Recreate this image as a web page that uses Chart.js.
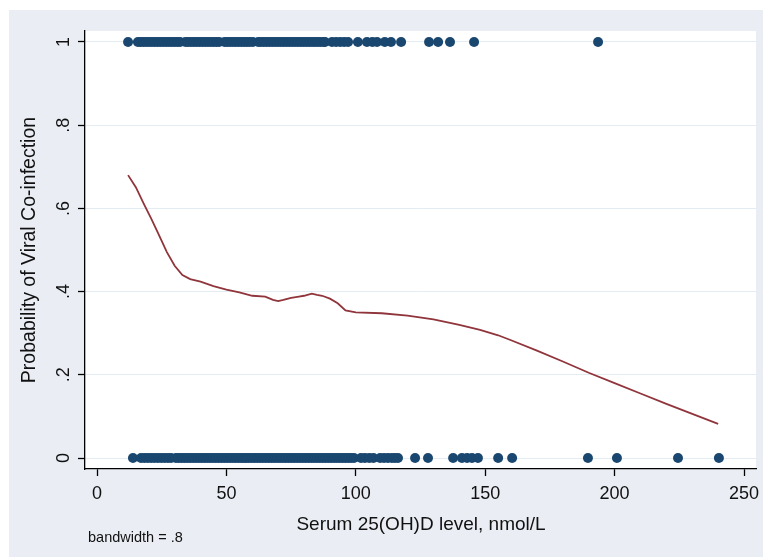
<!DOCTYPE html>
<html>
<head>
<meta charset="utf-8">
<script src="https://cdn.jsdelivr.net/npm/chart.js@4/dist/chart.umd.min.js"></script>
<style>
  html, body { margin: 0; padding: 0; background: #ffffff; }
  canvas { display: block; }
</style>
</head>
<body>
<canvas id="c" width="765" height="560"></canvas>
<script>
// ---- data ----
const xTicks = [0, 50, 100, 150, 200, 250];
const xTickLabels = ['0', '50', '100', '150', '200', '250'];
const yTicks = [0, 0.2, 0.4, 0.6, 0.8, 1];
const yTickLabels = ['0', '.2', '.4', '.6', '.8', '1'];

// Serum 25(OH)D values of subjects with co-infection (y = 1)
const coinfectedX = [12.0, 15.8, 16.8, 17.9, 19.0, 20.1, 21.2, 22.3, 23.4, 24.5, 25.6, 26.7, 27.8, 28.9, 30.0, 31.1, 32.1,
  34.2, 35.2, 36.3, 37.4, 38.5, 39.6, 40.7, 41.8, 42.9, 44.0, 45.1, 46.2, 47.2,
  49.3, 50.3, 51.4, 52.5, 53.6, 54.7, 55.8, 56.9, 57.9, 59.0, 60.2,
  62.3, 63.3, 64.4, 65.5, 66.6, 67.7, 68.8, 69.9, 71.0, 72.1, 73.2, 74.3, 75.4, 76.5, 77.6, 78.7, 79.8, 80.9, 82.0, 83.1, 84.2, 85.3, 86.4, 87.6, 88.1,
  90.8, 92.4, 94.0, 95.5, 97.0,
  100.8, 104.3, 106.4, 108.2, 111.2, 113.6, 117.5,
  128.3, 131.8, 136.4, 145.7, 193.6];
const coinfectedY = coinfectedX.map(() => 1);

// Serum 25(OH)D values of subjects without co-infection (y = 0)
const notCoinfectedX = [13.9, 17.0, 18.3, 19.6, 20.9, 22.2, 23.5, 24.8, 26.1, 27.4, 28.6,
  30.5, 31.6, 32.7, 33.8, 34.9, 36.0, 37.1, 38.2, 39.3, 40.4, 41.5, 42.6, 43.7, 44.8, 45.9, 47.0, 48.1, 49.2, 50.3, 51.4, 52.5, 53.6, 54.7, 55.8, 56.8,
  57.6, 58.6, 59.7, 60.8, 61.9, 63.0, 64.1, 65.2, 66.3, 67.4, 68.5, 69.6, 70.7, 71.8, 72.9, 74.0, 75.1, 76.2, 77.3, 78.4, 79.5, 80.6, 81.7, 82.8, 83.9, 85.0, 86.1, 87.2, 88.3, 89.4, 90.5, 91.6, 92.7, 93.8, 94.9, 96.0, 97.1, 98.2, 99.3,
  102.0, 103.5, 105.2, 106.8, 109.4, 110.9, 112.4, 113.9, 115.1, 116.3,
  122.9, 127.9, 137.6, 141.0, 143.0, 144.9, 147.2, 155.0, 160.4, 189.7, 200.9, 224.5, 240.3];
const notCoinfectedY = notCoinfectedX.map(() => 0);

// lowess smoothed probability
const lowessX = [12, 15, 18, 21, 24, 27, 30, 33, 36, 40, 45, 50, 55, 60, 65, 68, 70, 72, 75, 78, 80, 83, 85, 87, 90, 93, 96, 100,
  110, 120, 130, 140, 148, 155, 160, 170, 180, 190, 200, 210, 220, 230, 240];
const lowessY = [0.680, 0.651, 0.612, 0.575, 0.535, 0.495, 0.462, 0.440, 0.430, 0.424, 0.413, 0.405, 0.398, 0.390, 0.388, 0.380, 0.377, 0.380, 0.385, 0.388, 0.390, 0.395, 0.392, 0.390, 0.383, 0.372, 0.355, 0.350,
  0.348, 0.342, 0.333, 0.320, 0.308, 0.295, 0.283, 0.258, 0.232, 0.205, 0.180, 0.155, 0.130, 0.106, 0.082];

// ---- chart ----
const FONT = 'Arial, "Liberation Sans", sans-serif';
const toXY = (xs, ys) => xs.map((x, i) => ({ x: x, y: ys[i] }));

const decorPlugin = {
  id: 'decor',
  beforeDraw(chart) {
    const ctx = chart.ctx, a = chart.chartArea;
    ctx.save();
    ctx.fillStyle = '#ffffff';
    ctx.fillRect(0, 0, chart.width, chart.height);
    ctx.fillStyle = '#eaeef4';
    ctx.fillRect(9, 10, 754, 547);
    ctx.fillStyle = '#ffffff';
    ctx.fillRect(a.left, a.top, a.right - a.left, a.bottom - a.top);
    ctx.restore();
  },
  afterDraw(chart) {
    const ctx = chart.ctx, xs = chart.scales.x, ys = chart.scales.y;
    ctx.save();
    ctx.fillStyle = '#111111';
    // y tick labels (rotated)
    ctx.font = '18px ' + FONT;
    ctx.textAlign = 'center';
    ctx.textBaseline = 'middle';
    yTicks.forEach((v, i) => {
      const py = ys.getPixelForValue(v);
      ctx.save();
      ctx.translate(64, py);
      ctx.rotate(-Math.PI / 2);
      ctx.fillText(yTickLabels[i], 0, 0);
      ctx.restore();
    });
    // x tick labels
    xTicks.forEach((v, i) => {
      ctx.fillText(xTickLabels[i], xs.getPixelForValue(v), 494);
    });
    // axis titles
    ctx.font = '19px ' + FONT;
    ctx.fillText('Serum 25(OH)D level, nmol/L', 421, 525);
    ctx.save();
    ctx.translate(30, 250);
    ctx.rotate(-Math.PI / 2);
    ctx.font = '19.5px ' + FONT;
    ctx.fillText('Probability of Viral Co-infection', 0, 0);
    ctx.restore();
    // note
    ctx.font = '14.5px ' + FONT;
    ctx.textAlign = 'left';
    ctx.fillText('bandwidth = .8', 88, 538);
    ctx.restore();
  }
};

new Chart(document.getElementById('c'), {
  type: 'scatter',
  data: {
    datasets: [
      {
        label: 'Co-infected',
        data: toXY(coinfectedX, coinfectedY),
        backgroundColor: '#1a476f',
        borderWidth: 0,
        pointRadius: 5,
        order: 2
      },
      {
        label: 'Not co-infected',
        data: toXY(notCoinfectedX, notCoinfectedY),
        backgroundColor: '#1a476f',
        borderWidth: 0,
        pointRadius: 5,
        order: 2
      },
      {
        type: 'line',
        label: 'Lowess',
        data: toXY(lowessX, lowessY),
        borderColor: '#90353b',
        borderWidth: 1.8,
        pointRadius: 0,
        tension: 0,
        fill: false,
        order: 1
      }
    ]
  },
  options: {
    responsive: false,
    animation: false,
    devicePixelRatio: 1,
    layout: { padding: { left: 78, right: 9, top: 31, bottom: 84 } },
    plugins: { legend: { display: false }, tooltip: { enabled: false } },
    scales: {
      x: {
        type: 'linear',
        min: -4.637,
        max: 254.63,
        afterBuildTicks: s => { s.ticks = xTicks.map(v => ({ value: v })); },
        ticks: { display: false },
        grid: { drawOnChartArea: false, drawTicks: true, tickLength: 7, tickColor: '#000000', tickWidth: 1.3 },
        border: { display: true, color: '#000000', width: 1.3 }
      },
      y: {
        type: 'linear',
        min: -0.02644,
        max: 1.02644,
        afterBuildTicks: s => { s.ticks = yTicks.map(v => ({ value: v })); },
        ticks: { display: false },
        grid: { color: '#e3ebf3', lineWidth: 1, drawTicks: true, tickLength: 7, tickColor: '#000000', tickWidth: 1.3 },
        border: { display: true, color: '#000000', width: 1.3 }
      }
    }
  },
  plugins: [decorPlugin]
});
</script>
</body>
</html>
